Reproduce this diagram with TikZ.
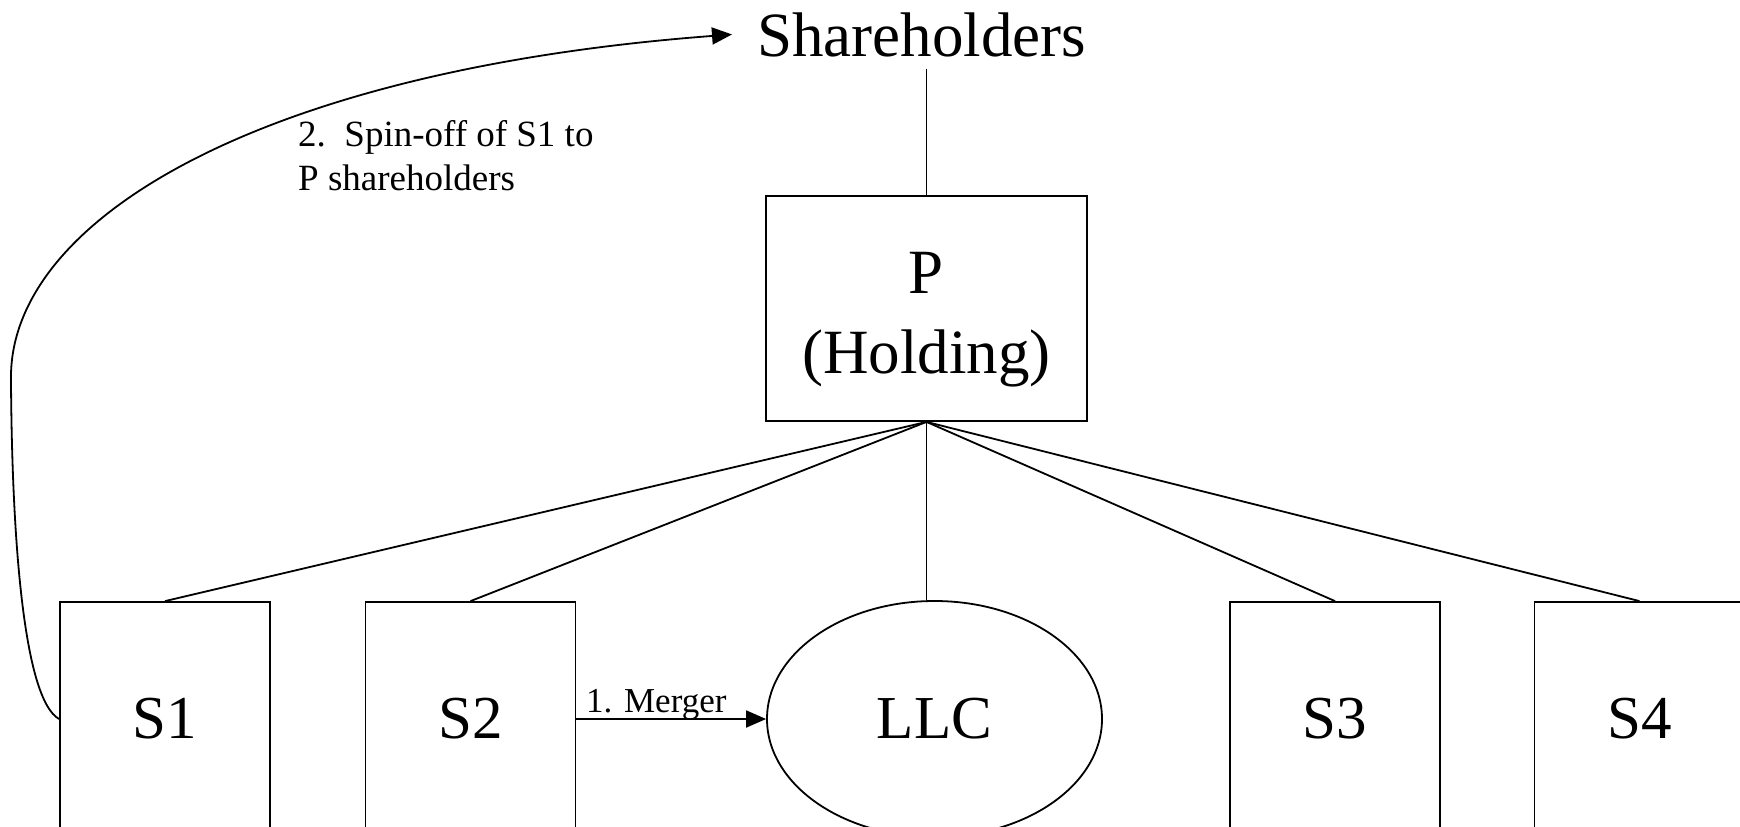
\documentclass[tikz,border=0pt]{standalone}
\usepackage{fontspec}
\setmainfont{Liberation Serif}
\usetikzlibrary{arrows.meta,shapes.geometric}
\begin{document}
\begin{tikzpicture}[x=1pt,y=-1pt,
  conn/.style={line width=1.8pt},
  bigtext/.style={font=\fontsize{63}{80}\selectfont},
  sbox/.style={draw, line width=1.8pt, minimum width=210pt, minimum height=234pt, inner sep=0pt, font=\fontsize{61}{70}\selectfont},
  tipped/.style={-{Triangle[length=20pt,width=17pt]}},
  smalltext/.style={font=\fontsize{37}{44}\selectfont}]
\useasboundingbox (0,0) rectangle (1740,827);
\clip (0,0) rectangle (1740,827);

\node[bigtext, anchor=base west, inner xsep=25pt, inner ysep=12pt] (sh) at (732,56) {Shareholders};

\node[draw, line width=1.8pt, bigtext, align=center, minimum width=321pt, minimum height=225pt, inner sep=0pt] (P) at (926.5,308.5) {\rule{0pt}{64pt}P\\(Holding)};

\node[sbox] (S1) at (165,719) {S1};
\node[sbox] (S2) at (470.5,719) {S2};
\node[sbox] (S3) at (1335,719) {S3};
\node[sbox] (S4) at (1639.5,719) {S4};
\node[draw, ellipse, line width=1.8pt, minimum width=335pt, minimum height=236pt, inner sep=0pt, font=\fontsize{61}{70}\selectfont] (LLC) at (934.5,719) {LLC};

\draw[conn] (sh.south -| P.north) -- (P.north);
\foreach \n in {S1,S2,S3,S4} \draw[conn] (P.south) -- (\n.north);
\draw[conn] (P.south) -- (P.south |- LLC.north);

\draw[conn, tipped] (S2.east) -- node[pos=0.047, anchor=base west, yshift=7pt, inner sep=0pt, font=\fontsize{35}{40}\selectfont] (mlab) {1. Merger} (LLC.west);

\draw[conn, tipped] (S1.west) .. controls (25,700) and (12,550) .. (11,380) .. controls (8,220) and (260,70) .. (sh.west);

\node[smalltext, anchor=north west, align=left, inner sep=0pt] (lab) at (298,120) {2.\ \ Spin-off of S1 to\\P shareholders};
\end{tikzpicture}
\end{document}
